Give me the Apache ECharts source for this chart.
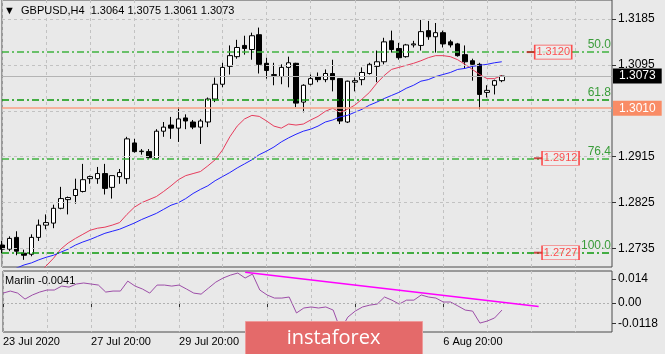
<!DOCTYPE html>
<html>
<head>
<meta charset="utf-8">
<script src="https://cdn.jsdelivr.net/npm/echarts@6/dist/echarts.min.js"></script>
<style>
  html, body { margin: 0; padding: 0; background: #e9e9e9; }
  #chart { width: 665px; height: 354px; }
</style>
</head>
<body>
<div id="chart"></div>
<script>
// GBPUSD H4, first bar = 23 Jul 2020 20:00
const symbol = 'GBPUSD,H4'
const slotCount = 84 // bars + empty space on the right

const opens = [1.2742, 1.2734, 1.2757, 1.2726, 1.2724, 1.2757, 1.2781, 1.2785, 1.2814, 1.2831,
  1.2839, 1.2847, 1.2872, 1.2872, 1.2882, 1.2855, 1.2876, 1.2872, 1.2942, 1.2925,
  1.2925, 1.2911, 1.2965, 1.2977, 1.2971, 1.2991, 1.2983, 1.2973, 1.2983, 1.3028,
  1.3057, 1.3092, 1.3111, 1.3133, 1.3125, 1.3154, 1.3098, 1.3074, 1.3072, 1.3090,
  1.3098, 1.3022, 1.3057, 1.3072, 1.3066, 1.3078, 1.3068, 1.2983, 1.3061, 1.3066,
  1.3078, 1.3092, 1.3101, 1.3142, 1.3127, 1.3111, 1.3134, 1.3133, 1.3162, 1.3150,
  1.3158, 1.3140, 1.3136, 1.3115, 1.3103, 1.3096, 1.3041, 1.3055, 1.3064]
const highs = [1.2750, 1.2759, 1.2769, 1.2733, 1.2763, 1.2792, 1.2802, 1.2821, 1.2856, 1.2837,
  1.2872, 1.2901, 1.2878, 1.2895, 1.2901, 1.2878, 1.2891, 1.2954, 1.2950, 1.2930,
  1.2930, 1.2969, 1.2983, 1.2993, 1.3012, 1.2998, 1.2987, 1.2989, 1.3031, 1.3070,
  1.3099, 1.3133, 1.3144, 1.3152, 1.3158, 1.3168, 1.3109, 1.3099, 1.3096, 1.3111,
  1.3099, 1.3057, 1.3076, 1.3080, 1.3086, 1.3105, 1.3068, 1.3064, 1.3070, 1.3090,
  1.3099, 1.3123, 1.3148, 1.3162, 1.3138, 1.3136, 1.3142, 1.3183, 1.3181, 1.3177,
  1.3162, 1.3144, 1.3138, 1.3133, 1.3107, 1.3099, 1.3055, 1.3066, 1.3075]
const lows = [1.2726, 1.2730, 1.2722, 1.2713, 1.2720, 1.2750, 1.2773, 1.2775, 1.2812, 1.2802,
  1.2823, 1.2845, 1.2862, 1.2862, 1.2841, 1.2833, 1.2862, 1.2862, 1.2923, 1.2919,
  1.2911, 1.2909, 1.2954, 1.2950, 1.2944, 1.2969, 1.2969, 1.2940, 1.2973, 1.3022,
  1.3051, 1.3076, 1.3107, 1.3115, 1.3105, 1.3078, 1.3068, 1.3055, 1.3057, 1.3051,
  1.3012, 1.3002, 1.3055, 1.3061, 1.3061, 1.3043, 1.2979, 1.2981, 1.3043, 1.3055,
  1.3076, 1.3061, 1.3096, 1.3119, 1.3105, 1.3109, 1.3129, 1.3123, 1.3144, 1.3119,
  1.3129, 1.3129, 1.3111, 1.3088, 1.3064, 1.3008, 1.3031, 1.3037, 1.3061]
const closes = [1.2734, 1.2755, 1.2730, 1.2722, 1.2757, 1.2781, 1.2786, 1.2814, 1.2833, 1.2835,
  1.2851, 1.2870, 1.2876, 1.2882, 1.2853, 1.2878, 1.2884, 1.2950, 1.2925, 1.2926,
  1.2913, 1.2965, 1.2973, 1.2971, 1.2989, 1.2985, 1.2973, 1.2985, 1.3028, 1.3057,
  1.3090, 1.3113, 1.3129, 1.3127, 1.3152, 1.3096, 1.3084, 1.3076, 1.3090, 1.3099,
  1.3020, 1.3055, 1.3068, 1.3066, 1.3078, 1.3066, 1.2985, 1.3063, 1.3064, 1.3080,
  1.3096, 1.3101, 1.3140, 1.3125, 1.3109, 1.3134, 1.3136, 1.3160, 1.3150, 1.3158,
  1.3136, 1.3134, 1.3113, 1.3101, 1.3096, 1.3037, 1.3045, 1.3064, 1.3073]

// moving averages (red = fast, blue = slow)
const maFast = ['-', '-', '-', '-', 1.2670, 1.2687, 1.2701, 1.2716, 1.2734, 1.2746,
  1.2755, 1.2763, 1.2771, 1.2775, 1.2777, 1.2781, 1.2786, 1.2802, 1.2816, 1.2825,
  1.2831, 1.2837, 1.2847, 1.2858, 1.2870, 1.2878, 1.2882, 1.2886, 1.2897, 1.2909,
  1.2928, 1.2954, 1.2975, 1.2989, 1.2996, 1.2994, 1.2985, 1.2975, 1.2971, 1.2979,
  1.2977, 1.2979, 1.2987, 1.2994, 1.3004, 1.3010, 1.3002, 1.3008, 1.3016, 1.3028,
  1.3041, 1.3059, 1.3074, 1.3086, 1.3090, 1.3094, 1.3098, 1.3103, 1.3109, 1.3113,
  1.3113, 1.3111, 1.3105, 1.3096, 1.3086, 1.3076, 1.3068, 1.3068, 1.3074]
const maSlow = [1.2685, 1.2691, 1.2697, 1.2703, 1.2707, 1.2713, 1.2718, 1.2722, 1.2728, 1.2734,
  1.2742, 1.2748, 1.2753, 1.2759, 1.2765, 1.2769, 1.2773, 1.2779, 1.2785, 1.2792,
  1.2798, 1.2804, 1.2812, 1.2820, 1.2825, 1.2833, 1.2843, 1.2851, 1.2858, 1.2868,
  1.2876, 1.2884, 1.2893, 1.2901, 1.2909, 1.2919, 1.2926, 1.2934, 1.2944, 1.2952,
  1.2959, 1.2965, 1.2969, 1.2975, 1.2983, 1.2987, 1.2993, 1.2996, 1.3002, 1.3008,
  1.3016, 1.3022, 1.3029, 1.3035, 1.3041, 1.3049, 1.3055, 1.3063, 1.3066, 1.3072,
  1.3076, 1.3080, 1.3086, 1.3088, 1.3092, 1.3094, 1.3096, 1.3099, 1.3101]

const marlin = [0.0058, 0.0070, 0.0058, 0.0023, 0.0047, 0.0064, 0.0076, 0.0076, 0.0099, 0.0093,
  0.0111, 0.0117, 0.0111, 0.0105, 0.0064, 0.0070, 0.0070, 0.0128, 0.0099, 0.0082,
  0.0058, 0.0105, 0.0105, 0.0099, 0.0105, 0.0082, 0.0058, 0.0052, 0.0087, 0.0122,
  0.0146, 0.0163, 0.0175, 0.0146, 0.0169, 0.0076, 0.0047, 0.0029, 0.0029, 0.0035,
  -0.0058, -0.0029, -0.0023, -0.0029, -0.0023, -0.0041, -0.0157, -0.0082, -0.0047, -0.0023,
  -0.0012, -0.0006, 0.0035, 0.0017, -0.0006, 0.0017, 0.0017, 0.0047, 0.0035, 0.0029,
  0.0006, 0.0006, -0.0017, -0.0041, -0.0047, -0.0117, -0.0105, -0.0087, -0.0041]
const marlinTrend = [[33, 0.0180], [73, -0.0020]]

const priceGrid = [1.3185, 1.3095, 1.3005, 1.2915, 1.2825, 1.2735]
const priceLabels = [1.3185, 1.3095, 1.2915, 1.2825, 1.2735]
const marlinLabels = [0.014, 0, -0.0118]
const timeTickIdx = [0, 12, 24, 36, 48, 60]
const timeTickLabels = ['23 Jul 2020', '27 Jul 20:00', '29 Jul 20:00', '31 Jul 20:00', '4 Aug 20:00', '6 Aug 20:00']

const fibLevels = [1.3120, 1.3027, 1.2912, 1.2727]
const fibNames = ['50.0', '61.8', '76.4', '100.0']
const supportPrice = 1.3010
const targetPrices = [1.3120, 1.2912, 1.2727]

const last = opens.length - 1
const bidPrice = closes[last]
const font = 'Liberation Sans, Arial, sans-serif'
const gridLine = { color: '#c2c2c2', type: [3, 3], width: 1 }
const fibColors = ['#3fb23f', '#0c990c', '#3fb23f', '#0c990c']

const cats = Array.from({ length: slotCount }, (_, i) => String(i))
const candles = opens.map((o, i) => [o, closes[i], lows[i], highs[i]])
const isTimeTick = (i) => timeTickIdx.indexOf(i) >= 0
const fmt4 = (v) => v.toFixed(4)

// one series per fibo level, so each keeps its own colour
const fibSeries = fibLevels.map((v, i) => ({
  type: 'line',
  xAxisIndex: 0,
  yAxisIndex: 0,
  data: [],
  z: 6,
  markLine: {
    silent: true,
    precision: 5,
    symbol: ['none', 'none'],
    lineStyle: { color: fibColors[i], type: [7, 3, 2, 3], width: 1.5 },
    label: { show: true, position: 'insideEndTop', distance: 1, formatter: fibNames[i], color: '#3a9c3a', fontSize: 12 },
    data: [{ yAxis: v }]
  }
}))

// price tags drawn as scatter marks: anchor dash + boxed label
const tagSeries = [{
  type: 'scatter',
  xAxisIndex: 0,
  yAxisIndex: 0,
  z: 7,
  silent: true,
  symbol: 'rect',
  symbolSize: [9, 2],
  itemStyle: { color: '#c42222' },
  data: targetPrices.map((v, i) => [i === 0 ? 72 : 72.9, v])
}, {
  type: 'scatter',
  xAxisIndex: 0,
  yAxisIndex: 0,
  z: 7,
  silent: true,
  symbol: 'rect',
  symbolSize: [37, 14],
  itemStyle: { color: '#ededed', borderColor: '#ff2626', borderWidth: 1 },
  label: { show: true, position: 'inside', color: '#ff2626', fontSize: 11, formatter: (p) => fmt4(p.value[1]) },
  data: targetPrices.map((v, i) => [i === 0 ? 74.8 : 75.9, v])
}]

const chart = echarts.init(document.getElementById('chart'))

chart.setOption({
  animation: false,
  backgroundColor: '#e9e9e9',
  textStyle: { fontFamily: font },
  title: [{
    text: '\u25BC  ' + symbol + '  ' + [opens[last], highs[last], lows[last], closes[last]].map(fmt4).join(' '),
    left: 4,
    top: 5,
    padding: 0,
    textStyle: { fontSize: 11, fontWeight: 'normal', color: '#000', fontFamily: font }
  }, {
    text: 'Marlin ' + fmt4(marlin[last]),
    left: 5,
    top: 275,
    padding: 0,
    textStyle: { fontSize: 11, fontWeight: 'normal', color: '#000', fontFamily: font }
  }],
  grid: [
    { left: 2, top: -2, width: 610, height: 269, show: true, borderColor: '#4a4a4a', borderWidth: 1 },
    { left: 2, top: 271, width: 610, height: 61, show: true, borderColor: '#4a4a4a', borderWidth: 1 }
  ],
  xAxis: [{
    type: 'category',
    gridIndex: 0,
    data: cats,
    boundaryGap: false,
    axisLine: { show: false },
    axisTick: { show: false },
    axisLabel: { show: false },
    splitLine: { show: true, interval: (i) => i % 6 === 0, lineStyle: gridLine }
  }, {
    type: 'category',
    gridIndex: 1,
    data: cats,
    boundaryGap: false,
    axisLine: { show: false },
    axisTick: { show: true, interval: isTimeTick, length: 4, lineStyle: { color: '#333' } },
    axisLabel: {
      interval: isTimeTick,
      formatter: (v) => timeTickLabels[timeTickIdx.indexOf(Number(v))] || '',
      align: 'left',
      margin: 4,
      fontSize: 11,
      color: '#000'
    },
    splitLine: { show: true, interval: (i) => i % 6 === 0, lineStyle: gridLine }
  }],
  yAxis: [{
    type: 'value',
    gridIndex: 0,
    position: 'right',
    min: 1.2699,
    max: 1.3222,
    axisLine: { show: false },
    splitLine: { show: false },
    axisTick: { show: true, customValues: priceLabels, length: 4, lineStyle: { color: '#333' } },
    axisLabel: { customValues: priceLabels, formatter: fmt4, margin: 6, fontSize: 12, color: '#000' }
  }, {
    type: 'value',
    gridIndex: 1,
    position: 'right',
    min: -0.0169,
    max: 0.0187,
    axisLine: { show: false },
    splitLine: { show: false },
    axisTick: { show: true, customValues: marlinLabels, length: 4, lineStyle: { color: '#333' } },
    axisLabel: {
      customValues: marlinLabels,
      formatter: (v) => (v === 0 ? '0.00' : String(v)),
      margin: 6,
      fontSize: 12,
      color: '#000'
    }
  }],
  series: [{
    // price grid lines
    type: 'line',
    xAxisIndex: 0,
    yAxisIndex: 0,
    data: [],
    z: 1,
    markLine: {
      silent: true,
      precision: 5,
      symbol: ['none', 'none'],
      label: { show: false },
      lineStyle: gridLine,
      data: priceGrid.map((v) => ({ yAxis: v }))
    }
  }, {
    type: 'candlestick',
    xAxisIndex: 0,
    yAxisIndex: 0,
    data: candles,
    barWidth: 5,
    clip: false,
    z: 3,
    itemStyle: { color: '#ffffff', color0: '#000000', borderColor: '#000000', borderColor0: '#000000', borderWidth: 1 }
  }, {
    type: 'line',
    xAxisIndex: 0,
    yAxisIndex: 0,
    data: maFast,
    showSymbol: false,
    z: 4,
    lineStyle: { color: '#e63c5c', width: 1 }
  }, {
    type: 'line',
    xAxisIndex: 0,
    yAxisIndex: 0,
    data: maSlow,
    showSymbol: false,
    z: 4,
    lineStyle: { color: '#2222ff', width: 1 }
  }, {
    // bid and support lines
    type: 'line',
    xAxisIndex: 0,
    yAxisIndex: 0,
    data: [],
    z: 5,
    markLine: {
      silent: true,
      precision: 5,
      symbol: ['none', 'none'],
      data: [
        {
          yAxis: bidPrice,
          lineStyle: { color: '#b4b4b4', type: 'solid', width: 1 },
          label: { show: true, position: 'end', distance: 1, formatter: fmt4(bidPrice), backgroundColor: '#000', color: '#fff', padding: [2, 6, 1, 6], fontSize: 12 }
        },
        {
          yAxis: supportPrice,
          lineStyle: { color: '#f7a083', type: 'solid', width: 1.5 },
          label: { show: true, position: 'end', distance: 1, formatter: fmt4(supportPrice), backgroundColor: '#f98c66', color: '#fff', padding: [2, 6, 1, 6], fontSize: 12 }
        }
      ]
    }
  }].concat(fibSeries).concat(tagSeries).concat([{
    type: 'line',
    xAxisIndex: 1,
    yAxisIndex: 1,
    data: marlin,
    showSymbol: false,
    z: 4,
    lineStyle: { color: '#9d4ea8', width: 1 },
    markLine: {
      silent: true,
      precision: 5,
      symbol: ['none', 'none'],
      label: { show: false },
      data: [
        { yAxis: 0, lineStyle: { color: '#b0b0b0', type: [2, 2], width: 1 } },
        [
          { coord: marlinTrend[0], lineStyle: { color: '#ff00ff', type: 'solid', width: 1.5 } },
          { coord: marlinTrend[1] }
        ]
      ]
    }
  }]),
  graphic: [{
    type: 'group',
    left: 245,
    top: 321,
    zlevel: 1,
    z: 100,
    children: [{
      type: 'rect',
      zlevel: 1,
      z: 100,
      shape: { x: 0, y: 0, width: 177, height: 33 },
      style: { fill: '#e46a6a', stroke: '#ee9a9a', lineWidth: 1 }
    }, {
      type: 'text',
      zlevel: 1,
      z: 101,
      x: 88,
      y: 17,
      style: { text: 'instaforex', fill: '#ffffff', font: '20px "Open Sans", sans-serif', textAlign: 'center', textVerticalAlign: 'middle' }
    }]
  }]
})
</script>
</body>
</html>
